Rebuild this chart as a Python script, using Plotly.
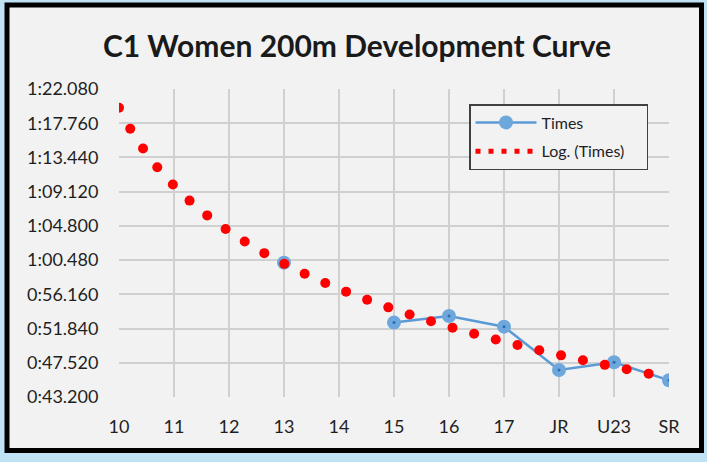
import numpy as np
import plotly.graph_objects as go

# ---------------- data ----------------
CATEGORIES = ["10", "11", "12", "13", "14", "15", "16", "17", "JR", "U23", "SR"]
TIMES = [None, None, None, 60.16, None, 52.59, 53.43, 52.08, 46.61, 47.58, 45.31]  # seconds
Y_TICK_LABELS = ["0:43.200", "0:47.520", "0:51.840", "0:56.160", "1:00.480",
                 "1:04.800", "1:09.120", "1:13.440", "1:17.760", "1:22.080"]
TITLE = "C1 Women 200m Development Curve"


def to_seconds(lbl):
    m, s = lbl.split(":")
    return int(m) * 60 + float(s)


y_tickvals = [to_seconds(t) for t in Y_TICK_LABELS]
x_idx = list(range(len(CATEGORIES)))

# ---------------- logarithmic trendline (like Excel: y = a ln(x) + b, x = 1..n) ----------------
xs = np.array([i + 1 for i, v in enumerate(TIMES) if v is not None], dtype=float)
ys = np.array([v for v in TIMES if v is not None], dtype=float)
a, b = np.polyfit(np.log(xs), ys, 1)

# layout geometry (pixels)
W, H = 707, 462
ML, MR, MT, MB = 119, 38, 89, 65
PW, PH = W - ML - MR, H - MT - MB
y0, y1 = y_tickvals[0], y_tickvals[-1]
x0, x1 = 0, len(CATEGORIES) - 1

# place round dots along the trend curve at (roughly) equal spacing on screen
t = np.linspace(x0, x1, 4000)
tv = a * np.log(t + 1) + b
px = t / (x1 - x0) * PW
py = (tv - y0) / (y1 - y0) * PH * 0.92
seg = np.hypot(np.diff(px), np.diff(py))
arc = np.concatenate([[0], np.cumsum(seg)])
step = 22.3
targets = np.arange(0, arc[-1] + 1e-6, step)
dot_x = np.interp(targets, arc, t)
dot_y = a * np.log(dot_x + 1) + b

fig = go.Figure()

# Times series
fig.add_trace(go.Scatter(
    x=x_idx, y=TIMES, mode="lines+markers", name="Times\u00a0\u00a0\u00a0\u00a0",
    line=dict(color="#5b9bd5", width=2.5),
    marker=dict(size=14, color="#6ea7dc"),
    connectgaps=False, legendgroup="a",
))
fig.add_trace(go.Scatter(
    x=x_idx, y=TIMES, mode="markers", showlegend=False, hoverinfo="skip",
    marker=dict(size=3, color="#2a6db0"),
))

# trendline dots
fig.add_trace(go.Scatter(
    x=dot_x, y=dot_y, mode="markers", showlegend=False,
    marker=dict(size=10, color="#ff0000"),
))
# legend entry for trendline
fig.add_trace(go.Scatter(
    x=[None], y=[None], mode="lines", name="Log. (Times)\u00a0\u00a0\u00a0\u00a0",
    line=dict(color="#ff0000", width=5, dash="5px,8px"), legendgroup="b",
))


def px2paper_x(p):
    return (p - ML) / PW


def px2paper_y(p):
    return (H - MB - p) / PH


# outer frame
fig.add_shape(type="rect", xref="paper", yref="paper", layer="below",
              x0=px2paper_x(7), x1=px2paper_x(701.5),
              y0=px2paper_y(450.5), y1=px2paper_y(5),
              line=dict(color="#000000", width=5), fillcolor="#f2f2f2")

fig.update_layout(
    width=W, height=H,
    margin=dict(l=ML, r=MR, t=MT, b=MB),
    paper_bgcolor="#bfe3f5",
    plot_bgcolor="#f2f2f2",
    font=dict(family="Lato, sans-serif", color="#1f1f1f", size=18),
    title=dict(text="<b>" + TITLE + "</b>", x=0.505, xref="container", xanchor="center",
               y=1 - 46 / H, yref="container", yanchor="middle",
               font=dict(size=30, color="#1a1a1a", family="Lato, sans-serif")),
    xaxis=dict(range=[x0, x1], tickvals=x_idx, ticktext=CATEGORIES,
               showgrid=True, gridcolor="#d0d0d0", gridwidth=1.5,
               zeroline=False, showline=False,
               ticks="outside", ticklen=13, tickcolor="rgba(0,0,0,0)",
               tickfont=dict(size=18)),
    yaxis=dict(range=[y0, y1], tickvals=y_tickvals, ticktext=Y_TICK_LABELS,
               showgrid=True, gridcolor="#d0d0d0", gridwidth=1.5,
               zeroline=False, showline=False,
               ticks="outside", ticklen=16, tickcolor="rgba(0,0,0,0)",
               tickfont=dict(size=18)),
    showlegend=True,
    legend=dict(x=px2paper_x(469), y=px2paper_y(104), xanchor="left", yanchor="top",
                bgcolor="#f2f2f2", bordercolor="#404040", borderwidth=1.5,
                font=dict(size=16, color="#1f1f1f"), tracegroupgap=5,
                itemwidth=61),
)

fig.write_html("out.html", config={"displayModeBar": False},
               post_script="document.body.style.margin='0';document.body.style.padding='0';")
